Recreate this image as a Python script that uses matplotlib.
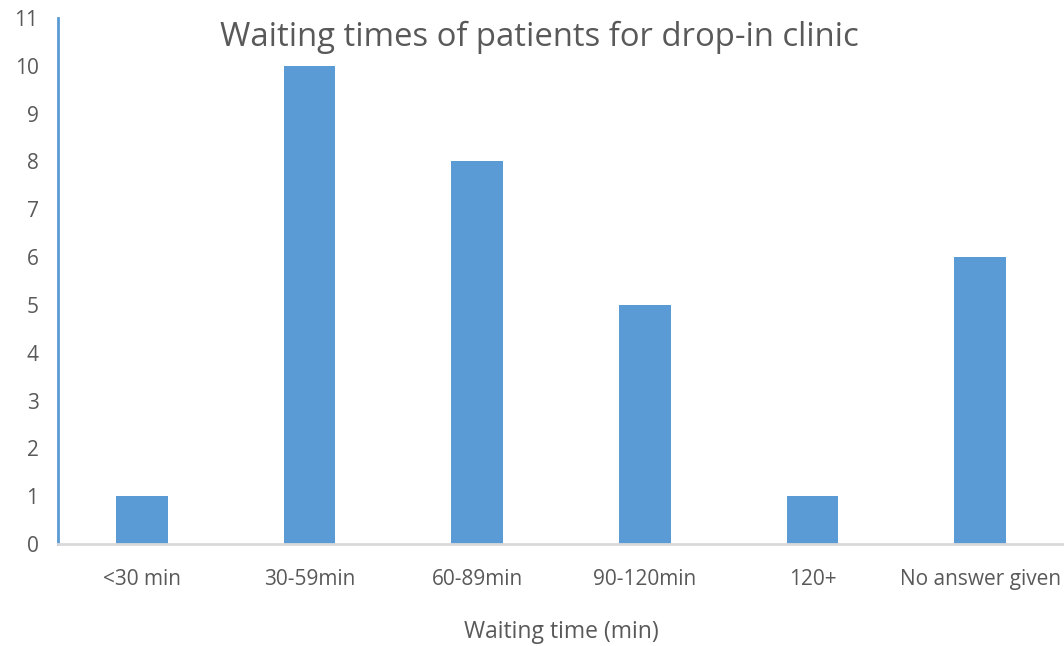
import matplotlib
matplotlib.use('Agg')
from matplotlib import pyplot as plt

categories = ['<30 min', '30-59min', '60-89min', '90-120min', '120+', 'No answer given']
patients = [1, 10, 8, 5, 1, 6]
y_ticks = list(range(0, 12))

text_color = '#595959'
bar_color = '#5B9BD5'

plt.rcParams['font.family'] = ['Open Sans', 'DejaVu Sans']

fig = plt.figure(figsize=(10.64, 6.46), dpi=100)
ax = fig.add_axes([58 / 1064, 102 / 646, 1 - 58 / 1064, 526 / 646])

x = range(len(categories))
ax.bar(x, patients, width=0.31, color=bar_color)

ax.set_xlim(-0.5, len(categories) - 0.5)
ax.set_ylim(0, 11)
ax.set_yticks(y_ticks)
ax.set_xticks(list(x))
ax.set_xticklabels(categories)
ax.tick_params(axis='both', length=0, labelsize=15, labelcolor=text_color)
ax.tick_params(axis='y', pad=14)
ax.tick_params(axis='x', pad=18)

for side in ['top', 'right']:
    ax.spines[side].set_visible(False)
ax.spines['left'].set_color(bar_color)
ax.spines['left'].set_linewidth(2)
ax.spines['bottom'].set_color('#D9D9D9')
ax.spines['bottom'].set_linewidth(2)

fig.text(539 / 1064, 1 - 37 / 646, 'Waiting times of patients for drop-in clinic',
         ha='center', va='center', fontsize=23.7, color=text_color)
fig.text(561 / 1064, 1 - 632 / 646, 'Waiting time (min)',
         ha='center', va='center', fontsize=16.5, color=text_color)

plt.savefig('out.png')
plt.close()
